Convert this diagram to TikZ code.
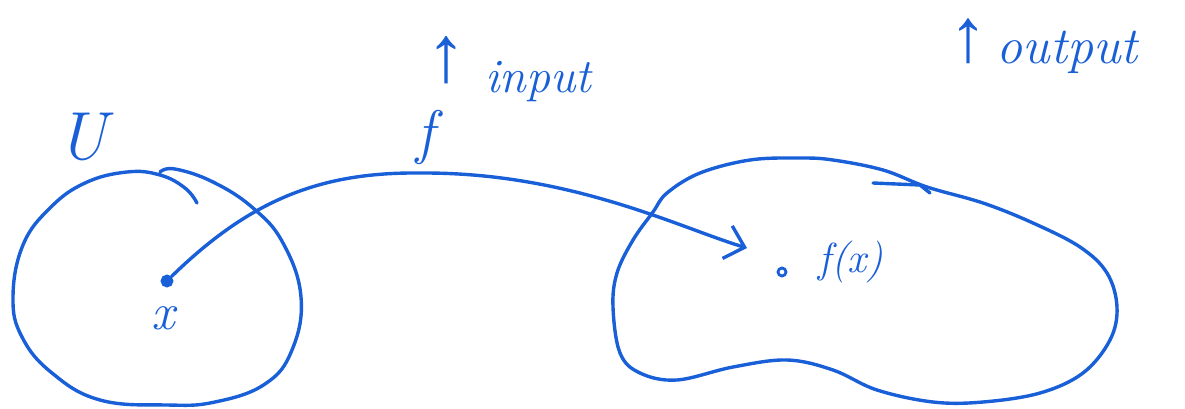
\documentclass[tikz,border=0pt]{standalone}
\usepackage{fontspec}
\newfontfamily\symfont{Liberation Sans}
\usetikzlibrary{arrows.meta}
\definecolor{ink}{RGB}{25,95,215}
\begin{document}
\begin{tikzpicture}[x=0.5pt,y=-0.5pt,
  pen/.style={draw=ink, line width=1.7pt, line cap=round, line join=round},
  lbl/.style={text=ink, inner sep=0pt},
  dotmark/.style={circle, draw=ink, line width=1.4pt, inner sep=0pt, minimum size=#1},
  fs/.style={font=\fontsize{#1}{#1}\selectfont\itshape},
  arr/.style={font=\symfont\fontsize{#1}{#1}\selectfont}]
\useasboundingbox (0,0) rectangle (1185,408);

% left set U
\draw[pen] plot[smooth, tension=0.7] coordinates {(160,172) (175,169) (213,182) (253,208) (283,243) (301,297) (292,350) (265,384) (215,402) (167,405) (100,400) (52,373) (22,337) (13,297) (23,245) (50,208) (85,183) (127,172) (160,175) (185,188) (197,203)};

% right set
\draw[pen] plot[smooth cycle, tension=0.6] coordinates {(653,212) (633,240) (617,273) (613,307) (620,353) (640,373) (677,380) (733,367) (787,360) (833,370) (877,390) (933,402) (983,402) (1040,393) (1083,373) (1110,340) (1117,307) (1107,273) (1080,247) (1033,223) (983,203) (927,187) (883,170) (833,160) (800,158) (750,160) (700,173) (667,193)};
\draw[pen] (873,183) -- (920,185) -- (930,193);

% points
\node[dotmark=5pt, fill=ink] (xdot) at (167,281) {};
\node[dotmark=4pt] (fxdot) at (782,272) {};
\coordinate (ftip) at (747,248);

% mapping arrow f
\draw[pen, -{Straight Barb[length=9pt,width=17pt,line width=1.7pt]}] (xdot.north east) .. controls (250,200) and (320,172) .. (420,173) .. controls (570,172) and (680,228) .. (ftip);

% labels
\node[lbl, fs=34pt] (Ul) at (82,137) {U};
\node[lbl, fs=26pt] (xl) at (163,318) {x};
\node[lbl, fs=30pt] (fl) at (425,137) {f};
\node[lbl, fs=21pt] (fxl) at (851,262) {f(x)};
\node[lbl, arr=40pt] (inarr) at (446,60) {↑};
\node[lbl, fs=24pt] (inl) at (538,82) {input};
\node[lbl, arr=38pt] (outarr) at (968,41) {↑};
\node[lbl, fs=26pt] (outl) at (1067,52) {output};
\end{tikzpicture}
\end{document}
